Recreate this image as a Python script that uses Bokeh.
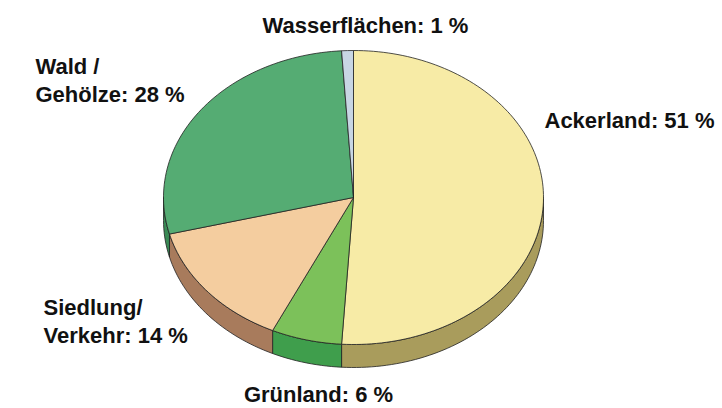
import math
from bokeh.plotting import figure
from bokeh.models import ColumnDataSource
from bokeh.core.properties import value
from bokeh.embed import file_html
from bokeh.resources import INLINE

# ---- data (clockwise from 12 o'clock) ----
categories = ["Ackerland", "Grünland", "Siedlung/ Verkehr", "Wald / Gehölze", "Wasserflächen"]
shares = [51, 6, 14, 28, 1]
label_lines = [["Ackerland: 51 %"], ["Grünland: 6 %"], ["Siedlung/", "Verkehr: 14 %"],
               ["Wald /", "Gehölze: 28 %"], ["Wasserflächen: 1 %"]]
top_colors = ["#F7EBA6", "#7CC15A", "#F4CD9F", "#55AC73", "#C8D6E4"]
side_colors = ["#A99C5C", "#3F9E4C", "#A87B5C", "#3A8A55", "#8E9DAB"]

W, H = 722, 408
# pie geometry (pixel-like data units, y up)
CX, CY, RX, RY, DEPTH = 353, 211, 190, 147, 23

p = figure(width=W, height=H, x_range=(0, W), y_range=(0, H),
           output_backend="svg", toolbar_location=None, min_border=0)
p.axis.visible = False
p.grid.visible = False
p.outline_line_color = None
p.background_fill_color = "white"


def pt(theta_deg, dy=0.0):
    t = math.radians(theta_deg)
    return CX + RX * math.sin(t), CY + RY * math.cos(t) - dy


total = float(sum(shares))
starts, ends = [], []
acc = 0.0
for s in shares:
    starts.append(acc / total * 360.0)
    acc += s
    ends.append(acc / total * 360.0)

# side faces (visible front half: 90..270 deg)
sx, sy, sc = [], [], []
for a0, a1, col in zip(starts, ends, side_colors):
    lo, hi = max(a0, 90.0), min(a1, 270.0)
    if hi <= lo:
        continue
    n = max(2, int((hi - lo) / 1.5) + 1)
    angs = [lo + (hi - lo) * i / (n - 1) for i in range(n)]
    top = [pt(a) for a in angs]
    bot = [pt(a, DEPTH) for a in reversed(angs)]
    sx.append([q[0] for q in top + bot])
    sy.append([q[1] for q in top + bot])
    sc.append(col)
p.patches(xs="xs", ys="ys", fill_color="c", line_color="#222222", line_width=0.8,
          source=ColumnDataSource(dict(xs=sx, ys=sy, c=sc)))

# top faces
tx, ty = [], []
for a0, a1 in zip(starts, ends):
    n = max(2, int((a1 - a0) / 1.5) + 1)
    angs = [a0 + (a1 - a0) * i / (n - 1) for i in range(n)]
    pts = [(CX, CY)] + [pt(a) for a in angs]
    tx.append([q[0] for q in pts])
    ty.append([q[1] for q in pts])
p.patches(xs="xs", ys="ys", fill_color="c", line_color="#222222", line_width=0.8,
          source=ColumnDataSource(dict(xs=tx, ys=ty, c=top_colors)))

# label placement (anchor of first line, alignment)
label_pos = {
    "Ackerland": (544, 288, "left"),
    "Grünland": (318, 14, "center"),
    "Siedlung/ Verkehr": (43, 101, "left"),
    "Wald / Gehölze": (35, 342, "left"),
    "Wasserflächen": (365, 383, "center"),
}
LINE_GAP = 28
lx, ly, lt, la = [], [], [], []
for cat, lines in zip(categories, label_lines):
    x0, y0, al = label_pos[cat]
    for i, line in enumerate(lines):
        lx.append(x0)
        ly.append(y0 - i * LINE_GAP)
        lt.append(line)
        la.append(al)
p.text(x="x", y="y", text="t", text_align="a", text_baseline="middle",
       text_font=value("Liberation Sans"), text_font_style="bold",
       text_font_size="22px", text_color="#111111",
       source=ColumnDataSource(dict(x=lx, y=ly, t=lt, a=la)))

open("out.html", "w").write(file_html(p, INLINE))
